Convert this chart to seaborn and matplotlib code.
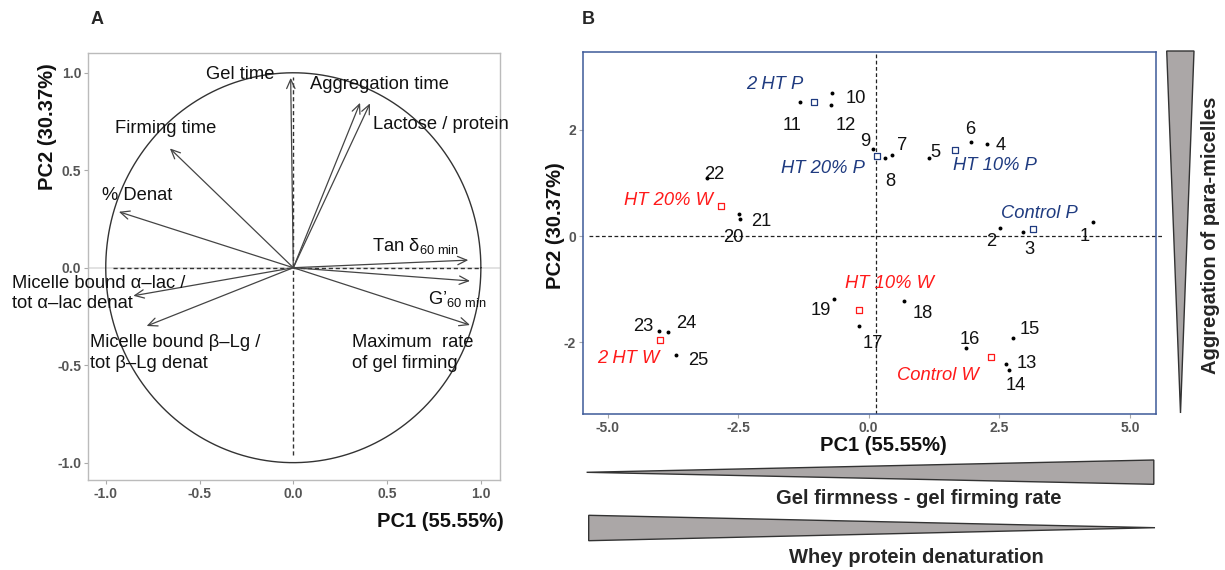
import numpy as np
import pandas as pd
import matplotlib
matplotlib.use("Agg")
import matplotlib.pyplot as plt
from matplotlib.patches import Polygon
import seaborn as sns

# ---------------- data ----------------
# Panel A: variable loadings
var_names = ["Gel time", "Aggregation time", "Lactose / protein", "Firming time",
             "% Denat", "Tan δ$_{\\mathrm{60\\ min}}$", "G\u2019$_{\\mathrm{60\\ min}}$",
             "Maximum  rate\nof gel firming",
             "Micelle bound α\u2013lac /\ntot α\u2013lac denat",
             "Micelle bound β\u2013Lg /\ntot β\u2013Lg denat"]
load_pc1 = [-0.014, 0.356, 0.409, -0.658, -0.93, 0.933, 0.942, 0.942, -0.853, -0.782]
load_pc2 = [0.974, 0.846, 0.843, 0.612, 0.287, 0.039, -0.068, -0.294, -0.144, -0.299]

# Panel B: sample scores
sample_ids = list(range(1, 26))
score_pc1 = [4.30, 2.52, 2.96, 2.26, 1.15, 1.95, 0.45, 0.31, 0.08, -0.71,
             -1.32, -0.73, 2.62, 2.69, 2.76, 1.87, -0.18, 0.68, -0.67, -2.47,
             -2.49, -3.09, -4.01, -3.84, -3.68]
score_pc2 = [0.27, 0.16, 0.08, 1.74, 1.47, 1.77, 1.52, 1.47, 1.65, 2.69,
             2.52, 2.48, -2.42, -2.52, -1.93, -2.11, -1.70, -1.23, -1.19, 0.33,
             0.415, 1.09, -1.79, -1.81, -2.24]

# Group centroids
group_names = ["2 HT P", "HT 20% P", "HT 10% P", "Control P",
               "HT 20% W", "HT 10% W", "2 HT W", "Control W"]
group_pc1 = [-1.05, 0.15, 1.65, 3.14, -2.82, -0.18, -4.00, 2.35]
group_pc2 = [2.53, 1.51, 1.62, 0.13, 0.57, -1.40, -1.96, -2.28]
group_type = ["P", "P", "P", "P", "W", "W", "W", "W"]

x_ticks_a = [-1.0, -0.5, 0.0, 0.5, 1.0]
y_ticks_a = [-1.0, -0.5, 0.0, 0.5, 1.0]
x_ticks_b = [-5.0, -2.5, 0.0, 2.5, 5.0]
y_ticks_b = [-2, 0, 2]

# ---------------- layout (label placement, not data) ----------------
var_label_pos = [(-0.098, 0.993, "right"), (0.089, 0.94, "left"), (0.423, 0.737, "left"),
                 (-0.951, 0.715, "left"), (-1.018, 0.368, "left"), (0.418, 0.113, "left"),
                 (0.72, -0.162, "left"), (0.311, -0.437, "left"), (-1.502, -0.131, "left"),
                 (-1.084, -0.437, "left")]
num_offsets = [(-0.16, -0.28), (-0.17, -0.27), (0.12, -0.34), (0.27, -0.04), (0.12, 0.11),
               (0.0, 0.24), (0.19, 0.18), (0.10, -0.45), (-0.15, 0.13), (0.46, -0.09),
               (-0.14, -0.43), (0.29, -0.40), (0.41, 0.02), (0.12, -0.30), (0.32, 0.16),
               (0.06, 0.16), (0.26, -0.33), (0.35, -0.23), (-0.24, -0.21), (-0.13, -0.35),
               (0.44, -0.14), (0.13, 0.08), (-0.31, 0.08), (0.35, 0.16), (0.42, -0.10)]
group_label_pos = [(-1.79, 2.85), (-0.88, 1.28), (2.42, 1.33), (3.26, 0.42),
                   (-3.84, 0.67), (0.39, -0.89), (-4.61, -2.31), (1.32, -2.62)]

sns.set_theme(style="white")
plt.rcParams["font.family"] = ["Liberation Sans", "DejaVu Sans"]
plt.rcParams["mathtext.fontset"] = "custom"
plt.rcParams["mathtext.rm"] = "Liberation Sans"
plt.rcParams["mathtext.it"] = "Liberation Sans:italic"

BLUE = "#1f3b80"
RED = "#ff1a1a"
TICKC = "#555555"
FS = 13.2

fig = plt.figure(figsize=(12.25, 5.7), dpi=100)
W, H = 1225, 570

def fpos(l, t, r, b):
    return [l / W, 1 - b / H, (r - l) / W, (b - t) / H]

# ================= Panel A =================
axA = fig.add_axes(fpos(88.3, 52.7, 500, 480))
axA.set_xlim(-1.093, 1.102)
axA.set_ylim(-1.089, 1.103)
axA.axhline(0, color="#dddddd", lw=1.2, zorder=0)
theta = np.linspace(0, 2 * np.pi, 400)
circ = pd.DataFrame({"x": np.cos(theta), "y": np.sin(theta)})
sns.lineplot(data=circ, x="x", y="y", sort=False, estimator=None, color="#333333",
             lw=1.0, ax=axA)
axA.plot([-0.96, 0.997], [0, 0], ls=(0, (3, 2)), color="#333333", lw=1.0)
axA.plot([0, 0], [-0.96, 0.98], ls=(0, (3, 2)), color="#333333", lw=1.0)
for name, x, y, (lx, ly, ha) in zip(var_names, load_pc1, load_pc2, var_label_pos):
    axA.annotate("", xy=(x, y), xytext=(0, 0),
                 arrowprops=dict(arrowstyle="->,head_length=0.55,head_width=0.25",
                                 color="#444444", lw=0.9, shrinkA=0, shrinkB=0))
    axA.text(lx, ly, name, ha=ha, va="center", fontsize=FS, color="#111111",
             linespacing=1.25, clip_on=False, zorder=5)
axA.set_xticks(x_ticks_a)
axA.set_yticks(y_ticks_a)
axA.set_xticklabels([f"{v:.1f}" for v in x_ticks_a])
axA.set_yticklabels([f"{v:.1f}" for v in y_ticks_a])
axA.tick_params(axis="both", length=3, width=0.8, color="#aaaaaa", labelsize=10,
                labelcolor=TICKC, pad=2, bottom=True, left=True)
for lab in axA.get_xticklabels() + axA.get_yticklabels():
    lab.set_fontweight("bold")
for s in axA.spines.values():
    s.set_color("#bbbbbb")
    s.set_linewidth(1.0)
axA.set_xlabel("PC1 (55.55%)", fontsize=14.5, fontweight="bold", color="#111111")
axA.xaxis.set_label_coords(1.01, -0.098)
axA.xaxis.label.set_ha("right")
axA.xaxis.label.set_va("center")
axA.set_ylabel("PC2 (30.37%)", fontsize=14.5, fontweight="bold", color="#111111")
axA.yaxis.set_label_coords(-0.10, 0.828)
axA.yaxis.label.set_va("center")
fig.text(97 / W, 1 - 20 / H, "A", fontsize=13, fontweight="bold", ha="center", va="center")

# ================= Panel B =================
axB = fig.add_axes(fpos(583, 52, 1156, 414.3))
axB.set_xlim(-5.47, 5.50)
axB.set_ylim(-3.36, 3.47)
scores = pd.DataFrame({"id": sample_ids, "PC1": score_pc1, "PC2": score_pc2})
sns.scatterplot(data=scores, x="PC1", y="PC2", color="black", s=8, linewidth=0,
                ax=axB, zorder=4)
for sid, x, y, (dx, dy) in zip(sample_ids, score_pc1, score_pc2, num_offsets):
    axB.text(x + dx, y + dy, str(sid), ha="center", va="center", fontsize=FS,
             color="#111111")
groups = pd.DataFrame({"g": group_names, "PC1": group_pc1, "PC2": group_pc2,
                       "t": group_type})
for t, col in (("P", BLUE), ("W", RED)):
    sns.scatterplot(data=groups[groups["t"] == t], x="PC1", y="PC2", marker="s", s=16,
                    color="white", edgecolor=col, linewidth=0.9, legend=False,
                    ax=axB, zorder=5)
for g, t, (lx, ly) in zip(group_names, group_type, group_label_pos):
    axB.text(lx, ly, g, ha="center", va="center", fontsize=FS, style="italic",
             color=BLUE if t == "P" else RED)
axB.plot([-5.35, 5.62], [0, 0], ls=(0, (3, 2)), color="#222222", lw=0.9,
         clip_on=False, zorder=2)
axB.plot([0.13, 0.13], [-3.36, 3.47], ls=(0, (3, 2)), color="#222222", lw=0.9, zorder=2)
axB.set_xticks(x_ticks_b)
axB.set_yticks(y_ticks_b)
axB.set_xticklabels([f"{v:.1f}" for v in x_ticks_b])
axB.set_yticklabels([str(v) for v in y_ticks_b])
axB.tick_params(axis="both", length=3, width=0.8, color="#aaaaaa", labelsize=10,
                labelcolor=TICKC, pad=2, bottom=True, left=True)
for lab in axB.get_xticklabels() + axB.get_yticklabels():
    lab.set_fontweight("bold")
for s in axB.spines.values():
    s.set_color("#3d5a99")
    s.set_linewidth(1.1)
axB.set_xlabel("PC1 (55.55%)", fontsize=14.5, fontweight="bold", color="#111111")
axB.xaxis.set_label_coords(0.524, -0.085)
axB.xaxis.label.set_va("center")
axB.set_ylabel("PC2 (30.37%)", fontsize=14.5, fontweight="bold", color="#111111")
axB.yaxis.set_label_coords(-0.048, 0.52)
axB.yaxis.label.set_va("center")
fig.text(588 / W, 1 - 20 / H, "B", fontsize=13, fontweight="bold", ha="center", va="center")

# ================= Decorative wedges =================
GRAY = "#aba7a7"
EDGE = "#333333"
def wedge(pts):
    fig.patches.append(Polygon([(x / W, 1 - y / H) for x, y in pts], closed=True,
                               transform=fig.transFigure, facecolor=GRAY,
                               edgecolor=EDGE, lw=1.0))
wedge([(586.6, 472.3), (1153.8, 460), (1153.8, 484.3)])
wedge([(588.7, 515.3), (588.7, 540.7), (1155, 527.7)])
wedge([(1166.7, 51), (1194, 51), (1180.5, 413)])
fig.text(918.5 / W, 1 - 498.3 / H, "Gel firmness - gel firming rate", fontsize=14.5,
         fontweight="bold", ha="center", va="center")
fig.text(916.5 / W, 1 - 557.3 / H, "Whey protein denaturation", fontsize=14.5,
         fontweight="bold", ha="center", va="center")
fig.text(1210 / W, 1 - 235 / H, "Aggregation of para-micelles", fontsize=14.5,
         fontweight="bold", ha="center", va="center", rotation=90)

fig.savefig("out.png", dpi=100, facecolor="white")
